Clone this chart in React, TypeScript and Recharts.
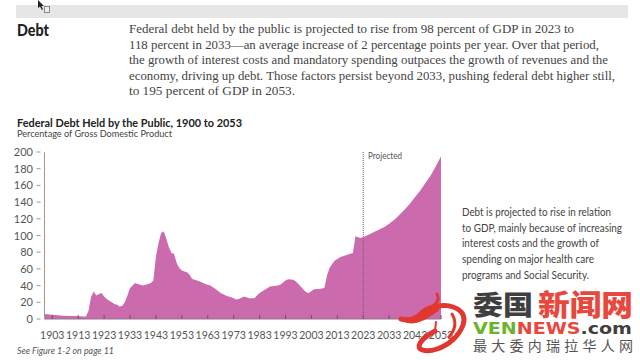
import React from "react";
import { AreaChart, Area, XAxis, YAxis, ReferenceLine } from "recharts";

const years = [1900,1903,1907,1912,1915,1916,1917,1918,1919,1920,1921,1922,1923,1924,1925,1926,1927,1928,1929,1930,1931,1932,1933,1934,1935,1936,1937,1938,1939,1940,1941,1942,1943,1944,1945,1946,1947,1948,1949,1950,1951,1952,1953,1954,1955,1956,1957,1958,1960,1962,1964,1965,1966,1968,1970,1971,1972,1974,1975,1977,1979,1981,1982,1983,1985,1987,1990,1991,1993,1994,1996,1997,1998,2000,2001,2002,2004,2006,2008,2009,2010,2011,2012,2013,2014,2016,2018,2019,2020,2021,2022,2023,2025,2027,2029,2031,2033,2035,2037,2039,2041,2043,2045,2047,2049,2051,2053];
const debt = [6,5,4,3.5,3,3,10,27,33,28,30,31,27,24,22,20,18,17,15,16,20,28,37,40,43,42,41,40,41,42,43,46,75,91,103,105,96,86,79,78,67,61,58,57,56,53,48,47,45,42,40,38,36,31,28,27,26,23.5,24,27,25,25,28,31,35,39,40,41,46,47.5,47,45,42,35,32,31,35.5,36,37,52,61,66,70,72,74,76,78,79,99,98,97,98,101,104,107,110,114,119,125,131,138,146,154,163,172,183,195];
const yTicks = [0,20,40,60,80,100,120,140,160,180,200];
const xTicks = [1903,1913,1923,1933,1943,1953,1963,1973,1983,1993,2003,2013,2023,2033,2043,2053];
const paragraph = [
  "Federal debt held by the public is projected to rise from 98 percent of GDP in 2023 to",
  "118 percent in 2033\u2014an average increase of 2 percentage points per year. Over that period,",
  "the growth of interest costs and mandatory spending outpaces the growth of revenues and the",
  "economy, driving up debt. Those factors persist beyond 2033, pushing federal debt higher still,",
  "to 195 percent of GDP in 2053.",
];
const paragraphWidths = [445, 470, 479, 486, 166];
const paragraphBaselines = [33, 48.5, 64, 79.5, 95];
const note = [
  "Debt is projected to rise in relation",
  "to GDP, mainly because of increasing",
  "interest costs and the growth of",
  "spending on major health care",
  "programs and Social Security.",
];
const noteWidths = [149, 160, 137, 132, 127];
const noteBaselines = [216, 232, 247, 263, 279];

const rows = years.map((year, i) => ({ year, debt: debt[i] }));
const sans = "Lato, Roboto, sans-serif";
const serif = "'Liberation Serif', serif";
const axisColor = "#555";

function YTick(p: any) {
  return (
    <g>
      <line x1={p.x} x2={p.x + 4} y1={p.y} y2={p.y} stroke="#999" />
      <text x={33} y={p.y + 4} textAnchor="end" fontFamily={sans} fontSize={11} fill={axisColor}>{p.payload.value}</text>
    </g>
  );
}
function XTick(p: any) {
  return (
    <g>
      <line x1={p.x} x2={p.x} y1={315} y2={319} stroke="#7c4a70" />
      <text x={p.x} y={339} textAnchor="middle" fontFamily={sans} fontSize={10.5} fill={axisColor}>{p.payload.value}</text>
    </g>
  );
}

export default function App() {
  return (
    <div style={{ position: "absolute", left: 0, top: 0, width: 640, height: 360, background: "#fff", overflow: "hidden" }}>
      <div style={{ position: "absolute", left: 16, top: 5, width: 612, height: 13, background: "#e6e6e6" }} />
      <div style={{ position: "absolute", left: 0, top: 0 }}>
        <AreaChart width={640} height={360} data={rows} margin={{ top: 152, right: 199, bottom: 21, left: 14.5 }}>
          <XAxis dataKey="year" type="number" domain={[1900, 2053]} ticks={xTicks} tick={<XTick />} tickLine={false} stroke="#8a7a86" interval={0} height={20} />
          <YAxis type="number" domain={[0, 200]} ticks={yTicks} tick={<YTick />} tickLine={false} stroke="#999" width={30} interval={0} />
          <Area dataKey="debt" type="linear" stroke="none" fill="#cb6aad" fillOpacity={1} isAnimationActive={false} />
          <ReferenceLine x={2023} stroke="#6f5a70" strokeDasharray="1 1" />
        </AreaChart>
      </div>
      <svg width={640} height={360} style={{ position: "absolute", left: 0, top: 0 }}>
        <path d="M38 0 L38 8 L40 6.5 L42 10 L43 9.5 L41.5 6 L44 6 Z" fill="#222" />
        <rect x={44.5} y={6.5} width={5} height={6} fill="#eee" stroke="#888" />
        <text x={17} y={36} fontFamily={sans} fontWeight={900} fontSize={17} textLength={32} lengthAdjust="spacingAndGlyphs" fill="#222">Debt</text>
        {paragraph.map((line, i) => (
          <text key={i} x={129} y={paragraphBaselines[i]} fontFamily={serif} fontSize={13} textLength={paragraphWidths[i]} lengthAdjust="spacingAndGlyphs" fill="#444">{line}</text>
        ))}
        <text x={17} y={127} fontFamily={sans} fontWeight={700} fontSize={11.5} textLength={225} lengthAdjust="spacingAndGlyphs" fill="#222">Federal Debt Held by the Public, 1900 to 2053</text>
        <text x={17} y={137} fontFamily={sans} fontSize={10} textLength={155} lengthAdjust="spacingAndGlyphs" fill="#444">Percentage of Gross Domestic Product</text>
        <text x={368} y={159} fontFamily={sans} fontSize={9} textLength={34} lengthAdjust="spacingAndGlyphs" fill="#555">Projected</text>
        {note.map((line, i) => (
          <text key={i} x={462} y={noteBaselines[i]} fontFamily={sans} fontSize={10.5} textLength={noteWidths[i]} lengthAdjust="spacingAndGlyphs" fill="#444">{line}</text>
        ))}
        <text x={17} y={354} fontFamily={sans} fontStyle="italic" fontSize={9.5} textLength={97} lengthAdjust="spacingAndGlyphs" fill="#555">See Figure 1-2 on page 11</text>

        <g fill="none" stroke="#e0382f" strokeLinecap="round">
          <path d="M401 319 C412 322 416 318 424 311 C431 306 445 304 453 307 C462 310 466 316 463 325 C459 336 449 345 437 349 C428 352 419 351 419 346 C420 341 427 335 435 331" strokeWidth={5} />
          <path d="M435 331 L436 322" strokeWidth={2} />
          <path d="M426 311 C433 305 441 303 437 294" strokeWidth={3} />
          <path d="M408 320 C418 322 426 316 436 309" strokeWidth={6} />
          <path d="M452 314 C457 322 455 330 449 337" strokeWidth={3} />
        </g>

        <text x={473} y={315} fontFamily="'Noto Sans CJK SC'" fontWeight={900} fontSize={27} textLength={60} lengthAdjust="spacingAndGlyphs" fill="#3f3f3f">委国</text>
        <text x={538} y={316} fontFamily="'Noto Sans CJK SC'" fontWeight={900} fontSize={29} textLength={95} lengthAdjust="spacingAndGlyphs" fill="#e8473d">新闻网</text>
        <text x={473} y={334} fontFamily="'DejaVu Sans'" fontWeight={700} fontSize={16} textLength={159} lengthAdjust="spacingAndGlyphs">
          <tspan fill="#6cb32c">VEN</tspan><tspan fill="#e8473d">NEWS</tspan><tspan fill="#3f3f3f">.com</tspan>
        </text>
        <text x={473} y={351} fontFamily="'Noto Sans CJK SC'" fontSize={14} textLength={160} fill="#555">最大委内瑞拉华人网</text>
      </svg>
    </div>
  );
}
